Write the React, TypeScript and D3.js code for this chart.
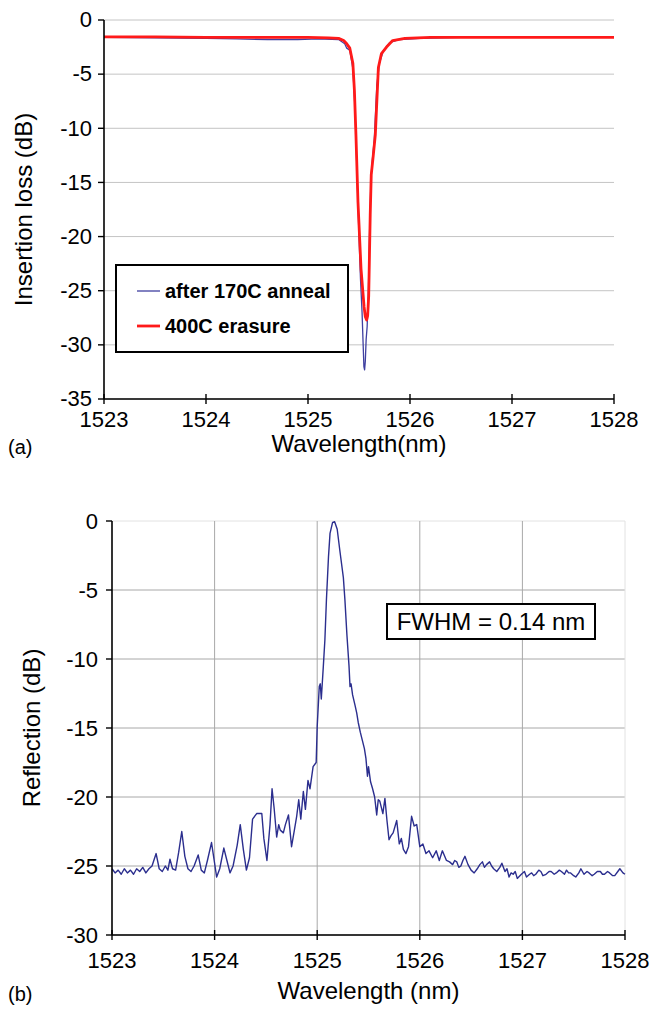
import React from "react";
import * as d3 from "d3";

// ---------- data ----------
const wavelengthTicks = [1523, 1524, 1525, 1526, 1527, 1528];
const lossTicks = [0, -5, -10, -15, -20, -25, -30, -35];
const reflTicks = [0, -5, -10, -15, -20, -25, -30];

const seriesNames = ["after 170C anneal", "400C erasure"];

// (a) insertion loss, after 170C anneal (blue)
const annealWl = [1523.0, 1523.5, 1524.0, 1524.3, 1524.6, 1524.9, 1525.1, 1525.3, 1525.36, 1525.38, 1525.41, 1525.44, 1525.46, 1525.48, 1525.5, 1525.515, 1525.53, 1525.54, 1525.548, 1525.555, 1525.562, 1525.57, 1525.58, 1525.592, 1525.605, 1525.618, 1525.63, 1525.65, 1525.675, 1525.7, 1525.74, 1525.8, 1525.9, 1526.1, 1526.5, 1527.0, 1528.0];
const annealLoss = [-1.6, -1.65, -1.7, -1.75, -1.8, -1.8, -1.75, -1.8, -2.2, -2.6, -2.8, -4.5, -8, -14, -20, -24, -27, -29.8, -32.0, -32.3, -31.5, -29.5, -28.3, -25, -19, -14.5, -13, -11, -6, -4, -2.8, -2.1, -1.8, -1.7, -1.6, -1.6, -1.6];

// (a) insertion loss, 400C erasure (red)
const erasureWl = [1523.0, 1523.5, 1524.0, 1524.5, 1525.0, 1525.2, 1525.3, 1525.35, 1525.38, 1525.41, 1525.44, 1525.455, 1525.47, 1525.49, 1525.52, 1525.55, 1525.562, 1525.575, 1525.585, 1525.595, 1525.61, 1525.62, 1525.64, 1525.66, 1525.69, 1525.72, 1525.77, 1525.83, 1525.95, 1526.2, 1527.0, 1528.0];
const erasureLoss = [-1.55, -1.55, -1.6, -1.6, -1.6, -1.65, -1.7, -1.9, -2.2, -2.6, -4.0, -6.5, -10.6, -16.8, -23.0, -26.5, -27.4, -27.7, -27.3, -25.5, -18.0, -14.3, -12.5, -10.6, -4.4, -3.1, -2.5, -1.9, -1.7, -1.6, -1.6, -1.6];

// (b) reflection spectrum
const reflWl = [
  1523.0, 1523.03, 1523.06, 1523.09, 1523.12, 1523.15, 1523.18, 1523.21, 1523.24, 1523.27,
  1523.3, 1523.33, 1523.36, 1523.39, 1523.43, 1523.46, 1523.49, 1523.52, 1523.545, 1523.565,
  1523.59, 1523.62, 1523.65, 1523.68, 1523.71, 1523.74, 1523.77, 1523.8, 1523.84, 1523.87,
  1523.9, 1523.93, 1523.97, 1524.0, 1524.02, 1524.05, 1524.09, 1524.12, 1524.15, 1524.18,
  1524.22, 1524.25, 1524.28, 1524.31, 1524.34, 1524.37, 1524.41, 1524.46, 1524.48, 1524.51,
  1524.54, 1524.56, 1524.58, 1524.605, 1524.625, 1524.64, 1524.67, 1524.69, 1524.72, 1524.75,
  1524.78, 1524.8, 1524.82, 1524.84, 1524.865, 1524.885, 1524.91, 1524.93, 1524.96, 1524.99,
  1525.0, 1525.02, 1525.03, 1525.04, 1525.06, 1525.075, 1525.09, 1525.11, 1525.125, 1525.15,
  1525.17, 1525.195, 1525.22, 1525.255, 1525.27, 1525.29, 1525.31, 1525.32, 1525.33, 1525.345,
  1525.37, 1525.385, 1525.4, 1525.42, 1525.44, 1525.46, 1525.475, 1525.49, 1525.5, 1525.52,
  1525.54, 1525.56, 1525.58, 1525.595, 1525.61, 1525.64, 1525.66, 1525.68, 1525.7, 1525.72,
  1525.74, 1525.775, 1525.8, 1525.82, 1525.84, 1525.865, 1525.89, 1525.92, 1525.945, 1525.97,
  1526.0, 1526.03, 1526.06, 1526.09, 1526.125, 1526.16, 1526.19, 1526.22, 1526.26, 1526.29,
  1526.32, 1526.34, 1526.36, 1526.38, 1526.4, 1526.42, 1526.44, 1526.47, 1526.5, 1526.53,
  1526.56, 1526.585, 1526.61, 1526.63, 1526.65, 1526.68, 1526.7, 1526.72, 1526.75, 1526.78,
  1526.8, 1526.83, 1526.85, 1526.87, 1526.89, 1526.91, 1526.93, 1526.95, 1526.99, 1527.02,
  1527.04, 1527.07, 1527.09, 1527.11, 1527.13, 1527.16, 1527.18, 1527.2, 1527.23, 1527.26,
  1527.28, 1527.31, 1527.33, 1527.36, 1527.38, 1527.41, 1527.43, 1527.45, 1527.47, 1527.5,
  1527.52, 1527.55, 1527.57, 1527.6, 1527.63, 1527.65, 1527.68, 1527.7, 1527.73, 1527.76,
  1527.78, 1527.8, 1527.83, 1527.85, 1527.88, 1527.9, 1527.93, 1527.95, 1527.98, 1528.0,
];
const reflDb = [
  -25.2, -25.5, -25.3, -25.6, -25.2, -25.5, -25.3, -25.6, -25.2, -25.4,
  -25.1, -25.5, -25.2, -25.0, -24.1, -25.2, -25.4, -25.0, -25.3, -24.5,
  -25.2, -25.3, -24.0, -22.5, -24.3, -25.2, -25.4, -25.0, -24.2, -25.3,
  -25.5, -24.6, -23.3, -24.8, -25.8, -25.2, -23.7, -24.6, -25.5, -25.0,
  -23.5, -22.0, -23.8, -25.3, -24.4, -21.6, -21.2, -21.2, -23.0, -24.6,
  -22.0, -19.4, -20.8, -22.9, -22.0, -22.4, -22.6, -22.0, -21.3, -23.6,
  -22.3, -21.4, -20.2, -21.6, -19.6, -20.9, -18.8, -19.4, -17.8, -17.5,
  -14.9, -12.0, -11.8, -12.9, -10.5, -8.6, -5.7, -2.6, -0.9, -0.1,
  -0.05, -0.6, -2.1, -4.1, -5.7, -8.3, -10.5, -12.0, -11.8, -12.6,
  -13.4, -13.9, -14.6, -15.3, -15.9, -16.5, -17.2, -18.5, -17.8, -18.9,
  -19.4, -20.0, -21.3, -20.2, -20.3, -21.2, -20.1, -21.7, -23.1, -22.8,
  -22.6, -21.7, -23.4, -23.0, -23.8, -24.1, -23.6, -21.4, -22.1, -22.0,
  -23.6, -23.4, -24.1, -23.9, -24.4, -23.9, -24.6, -23.9, -24.6, -24.7,
  -24.9, -24.6, -24.7, -25.1, -25.0, -24.6, -24.3, -24.9, -25.3, -25.5,
  -25.2, -24.9, -24.7, -25.1, -24.9, -24.7, -25.0, -25.2, -25.4, -25.1,
  -24.8, -25.4, -25.2, -25.8, -25.5, -25.6, -25.4, -25.9, -25.6, -25.4,
  -25.8, -25.6, -25.5, -25.7, -25.6, -25.3, -25.4, -25.7, -25.6, -25.4,
  -25.4, -25.6, -25.5, -25.3, -25.4, -25.6, -25.3, -25.5, -25.5, -25.7,
  -25.8, -25.5, -25.2, -25.6, -25.4, -25.5, -25.7, -25.6, -25.4, -25.4,
  -25.6, -25.6, -25.4, -25.5, -25.7, -25.7, -25.4, -25.2, -25.5, -25.6,
];

const fwhmLabel = "FWHM = 0.14 nm";

// ---------- layout ----------
const W = 662;
const H = 1009;
const FONT = "'Liberation Sans', Arial, Helvetica, sans-serif";

const topX = d3.scaleLinear().domain([1523, 1528]).range([104, 614]);
const topY = d3.scaleLinear().domain([-35, 0]).range([399, 20]);
const botX = d3.scaleLinear().domain([1523, 1528]).range([112, 625]);
const botY = d3.scaleLinear().domain([-30, 0]).range([935, 521]);

const zip = (xs: number[], ys: number[]) => xs.map((x, i) => [x, ys[i]] as [number, number]);

export default function App() {
  const topLine = (d: [number, number][]) =>
    d3.line<[number, number]>().x((p) => topX(p[0])).y((p) => topY(p[1]))(d) || "";
  const botLine = (d: [number, number][]) =>
    d3.line<[number, number]>().x((p) => botX(p[0])).y((p) => botY(p[1]))(d) || "";

  const [x0t, x1t] = topX.range();
  const [yBt, yTt] = topY.range();
  const [x0b, x1b] = botX.range();
  const [yBb, yTb] = botY.range();

  return (
    <svg
      width={W}
      height={H}
      viewBox={`0 0 ${W} ${H}`}
      style={{ position: "absolute", left: 0, top: 0, background: "#fff" }}
      fontFamily={FONT}
    >
      <rect x={0} y={0} width={W} height={H} fill="#fff" />

      {/* ================= (a) ================= */}
      <g>
        {lossTicks.map((t) => (
          <line key={"gt" + t} x1={x0t} x2={x1t} y1={topY(t)} y2={topY(t)} stroke="#c4c4c4" strokeWidth={1} />
        ))}
        <path d={topLine(zip(annealWl, annealLoss))} fill="none" stroke="#3f3fa0" strokeWidth={1.3} strokeLinejoin="round" />
        <path d={topLine(zip(erasureWl, erasureLoss))} fill="none" stroke="#ff1a1a" strokeWidth={2.8} strokeLinejoin="round" />
        {/* axes */}
        <line x1={x0t} x2={x0t} y1={yTt} y2={yBt} stroke="#000" strokeWidth={1.6} />
        <line x1={x0t} x2={x1t} y1={yBt} y2={yBt} stroke="#000" strokeWidth={1.6} />
        {lossTicks.map((t) => (
          <g key={"yt" + t}>
            <line x1={x0t - 6} x2={x0t} y1={topY(t)} y2={topY(t)} stroke="#000" strokeWidth={1.4} />
            <text x={x0t - 12} y={topY(t)} dy="0.33em" textAnchor="end" fontSize={22}>
              {t}
            </text>
          </g>
        ))}
        {wavelengthTicks.map((t) => (
          <g key={"xt" + t}>
            <line x1={topX(t)} x2={topX(t)} y1={yBt - 5} y2={yBt + 5} stroke="#000" strokeWidth={1.4} />
            <text x={topX(t)} y={yBt + 28} textAnchor="middle" fontSize={22}>
              {t}
            </text>
          </g>
        ))}
        <text
          transform={`translate(32, ${(yTt + yBt) / 2}) rotate(-90)`}
          textAnchor="middle"
          fontSize={24}
        >
          Insertion loss (dB)
        </text>
        <text x={(x0t + x1t) / 2} y={yBt + 53} textAnchor="middle" fontSize={24}>
          Wavelength(nm)
        </text>
        <text x={8} y={yBt + 55} fontSize={20}>
          (a)
        </text>
        {/* legend */}
        <rect x={116} y={265} width={232} height={87} fill="#fff" stroke="#000" strokeWidth={2} />
        <line x1={137} x2={160} y1={291} y2={291} stroke="#3f3fa0" strokeWidth={1.3} />
        <text x={165} y={291} dy="0.35em" fontSize={20} fontWeight="bold">
          {seriesNames[0]}
        </text>
        <line x1={137} x2={160} y1={326} y2={326} stroke="#ff1a1a" strokeWidth={2.8} />
        <text x={165} y={326} dy="0.35em" fontSize={20} fontWeight="bold">
          {seriesNames[1]}
        </text>
      </g>

      {/* ================= (b) ================= */}
      <g>
        {reflTicks.map((t) => (
          <line key={"gb" + t} x1={x0b} x2={x1b} y1={botY(t)} y2={botY(t)} stroke={t === 0 ? "#e2e2e2" : "#a8a8a8"} strokeWidth={1} />
        ))}
        {wavelengthTicks.slice(1).map((t) => (
          <line key={"gv" + t} x1={botX(t)} x2={botX(t)} y1={yTb} y2={yBb} stroke={t === 1528 ? "#e2e2e2" : "#a8a8a8"} strokeWidth={1} />
        ))}
        <path d={botLine(zip(reflWl, reflDb))} fill="none" stroke="#2b2e8e" strokeWidth={1.4} strokeLinejoin="round" />
        <line x1={x0b} x2={x0b} y1={yTb} y2={yBb} stroke="#000" strokeWidth={1.6} />
        <line x1={x0b} x2={x1b} y1={yBb} y2={yBb} stroke="#000" strokeWidth={1.6} />
        {reflTicks.map((t) => (
          <g key={"ybt" + t}>
            <line x1={x0b - 6} x2={x0b} y1={botY(t)} y2={botY(t)} stroke="#000" strokeWidth={1.4} />
            <text x={x0b - 14} y={botY(t)} dy="0.35em" textAnchor="end" fontSize={22}>
              {t}
            </text>
          </g>
        ))}
        {wavelengthTicks.map((t) => (
          <g key={"xbt" + t}>
            <line x1={botX(t)} x2={botX(t)} y1={yBb - 5} y2={yBb + 5} stroke="#000" strokeWidth={1.4} />
            <text x={botX(t)} y={yBb + 33} textAnchor="middle" fontSize={22}>
              {t}
            </text>
          </g>
        ))}
        <text
          transform={`translate(40, ${(yTb + yBb) / 2}) rotate(-90)`}
          textAnchor="middle"
          fontSize={24}
        >
          Reflection (dB)
        </text>
        <text x={(x0b + x1b) / 2} y={yBb + 64} textAnchor="middle" fontSize={24}>
          Wavelength (nm)
        </text>
        <text x={8} y={yBb + 66} fontSize={20}>
          (b)
        </text>
        <rect x={387} y={604} width={208} height={35} fill="#fff" stroke="#000" strokeWidth={2} />
        <text x={491} y={621.5} dy="0.36em" textAnchor="middle" fontSize={24}>
          {fwhmLabel}
        </text>
      </g>
    </svg>
  );
}
